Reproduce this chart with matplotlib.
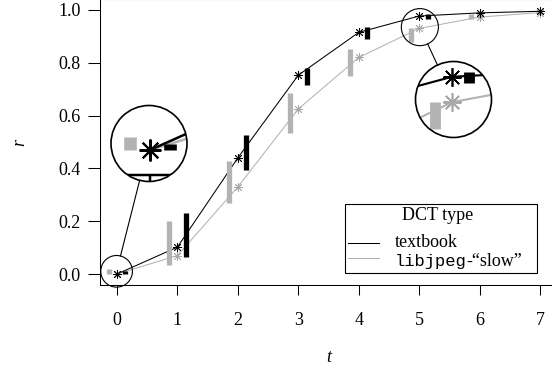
import numpy as np
import matplotlib
matplotlib.use("Agg")
import matplotlib.pyplot as plt
from matplotlib.patches import Circle, Ellipse, Rectangle
from matplotlib.lines import Line2D

plt.rcParams['font.family'] = ['Liberation Serif', 'DejaVu Serif']
plt.rcParams['font.size'] = 13

# data
t = np.arange(8)
textbook = [0.0, 0.102, 0.44, 0.753, 0.915, 0.977, 0.989, 0.995]
slow = [0.0, 0.07, 0.33, 0.625, 0.82, 0.93, 0.973, 0.99]
textbook_lo = [0.0, 0.065, 0.394, 0.716, 0.89, 0.966, 0.989, 0.995]
textbook_hi = [0.01, 0.23, 0.527, 0.78, 0.935, 0.985, 0.989, 0.995]
slow_lo = [0.0, 0.034, 0.27, 0.534, 0.75, 0.88, 0.966, 0.99]
slow_hi = [0.02, 0.2, 0.428, 0.686, 0.852, 0.93, 0.985, 0.99]
xticks = list(range(8))
yticks = [0.0, 0.2, 0.4, 0.6, 0.8, 1.0]

GRAY = '#b3b3b3'
OFF = 0.14
XLIM = (-0.28, 7.28)
YLIM = (-0.04, 1.04)
TICKLEN = 7.5

W, H = 552, 368
fig = plt.figure(figsize=(W / 100, H / 100), dpi=100)

# main axes in pixels (left, top, right, bottom)
AL, AT, AR, AB = 100.1, -0.6, 556.9, 284.6
ax = fig.add_axes([AL / W, (H - AB) / H, (AR - AL) / W, (AB - AT) / H])
ppx = (AR - AL) / (XLIM[1] - XLIM[0])
ppy = (AB - AT) / (YLIM[1] - YLIM[0])


def draw(a, k=1.0, frame=False):
    a.plot(t, slow, color=GRAY, lw=0.75 * k, zorder=2)
    a.plot(t, textbook, color='black', lw=0.75 * k, zorder=2.1)
    a.vlines(t - OFF, slow_lo, slow_hi, color=GRAY, lw=3.8 * k,
             capstyle='butt', zorder=3)
    a.vlines(t + OFF, textbook_lo, textbook_hi, color='black', lw=3.8 * k,
             capstyle='butt', zorder=3)
    a.plot(t, slow, ls='none', marker=(8, 2, 0), ms=6.5 * k, mew=0.6 * k,
           color='#a8a8a8', zorder=4)
    a.plot(t, textbook, ls='none', marker=(8, 2, 0), ms=6.5 * k, mew=0.6 * k,
           color='black', zorder=4.1)
    if frame:
        # main x axis line and ticks, seen through the magnifier
        a.plot(XLIM, [YLIM[0], YLIM[0]], color='black', lw=0.75 * k, zorder=5)
        tl = TICKLEN / 72 * 100 / ppy
        a.vlines(xticks, YLIM[0] - tl, YLIM[0], color='black', lw=0.75 * k, zorder=5)


draw(ax)
ax.set_xlim(*XLIM)
ax.set_ylim(*YLIM)
ax.set_xticks(xticks)
ax.set_yticks(yticks)
ax.set_yticklabels([f'{v:.1f}' for v in yticks])
ax.tick_params(axis='x', direction='out', length=TICKLEN, width=0.75, pad=12.5)
ax.tick_params(axis='y', direction='out', length=9, width=0.75, pad=5)
for s in ax.spines.values():
    s.set_linewidth(0.75)
ax.set_xlabel('t', style='italic')
ax.set_ylabel('r', style='italic')
ax.xaxis.set_label_coords(0.5, -0.254)
ax.xaxis.label.set_va('center')
ax.yaxis.set_label_coords(-0.175, 0.5)
ax.yaxis.label.set_va('center')

# legend
ax.add_patch(Rectangle((0.536, 0.0407), 0.957 - 0.536, 0.283 - 0.0407,
                       transform=ax.transAxes, fc='white', ec='black', lw=0.8, zorder=6))
ax.text(0.7378, 0.2258, 'DCT type', transform=ax.transAxes, ha='center',
        va='baseline', zorder=7)
ax.plot([0.5427, 0.6106], [0.1459, 0.1459], transform=ax.transAxes,
        color='black', lw=0.75, zorder=7)
ax.plot([0.5427, 0.6106], [0.0933, 0.0933], transform=ax.transAxes,
        color=GRAY, lw=0.75, zorder=7)
ax.text(0.6456, 0.1318, 'textbook', transform=ax.transAxes, ha='left',
        va='baseline', zorder=7)
lib = ax.text(0.6456, 0.0663, 'libjpeg', transform=ax.transAxes, ha='left',
              va='baseline', family='Liberation Mono', fontsize=12.3, zorder=7)
rend = fig.canvas.get_renderer()
bb = lib.get_window_extent(rend)
ax.text(bb.x1, ax.transAxes.transform((0, 0.0663))[1], '-“slow”',
        transform=None, ha='left', va='baseline', zorder=7)

# magnifier insets: (big circle centre px, radius px, data centre, magnification, frame)
insets = [((149.0, 143.5), 38.0, (-0.007, 0.0103), 2.4, True),
          ((453.5, 99.5), 38.0, (5.012, 0.935), 2.05, False)]

for (bx, by), R, (tc, rc), mag, frame in insets:
    ia = fig.add_axes([(bx - R) / W, (H - by - R) / H, 2 * R / W, 2 * R / H])
    ia.set_axis_off()
    ia.add_patch(Circle((0.5, 0.5), 0.5, transform=ia.transAxes,
                        fc='white', ec='none', zorder=0))
    draw(ia, mag, frame)
    ia.set_xlim(tc - R / mag / ppx, tc + R / mag / ppx)
    ia.set_ylim(rc - R / mag / ppy, rc + R / mag / ppy)
    clip = Circle((0.5, 0.5), 0.5, transform=ia.transAxes)
    for art in ia.lines + ia.collections:
        art.set_clip_path(clip)
    ia.add_patch(Circle((0.5, 0.5), 0.5, transform=ia.transAxes, fc='none',
                        ec='black', lw=1.2, zorder=10, clip_on=False))

    # small circle on the main plot
    r_small = R / mag
    ax.add_patch(Ellipse((tc, rc), 2 * r_small / ppx, 2 * r_small / ppy,
                         fc='none', ec='black', lw=0.8, zorder=8, clip_on=False))
    sx = AL + (tc - XLIM[0]) * ppx
    sy = AB - (rc - YLIM[0]) * ppy
    dx, dy = bx - sx, by - sy
    d = np.hypot(dx, dy)
    ux, uy = dx / d, dy / d
    p0 = (sx + ux * r_small, sy + uy * r_small)
    p1 = (bx - ux * R, by - uy * R)
    fig.add_artist(Line2D([p0[0] / W, p1[0] / W], [1 - p0[1] / H, 1 - p1[1] / H],
                          transform=fig.transFigure, color='black', lw=0.8))

fig.savefig('out.png', dpi=100)
